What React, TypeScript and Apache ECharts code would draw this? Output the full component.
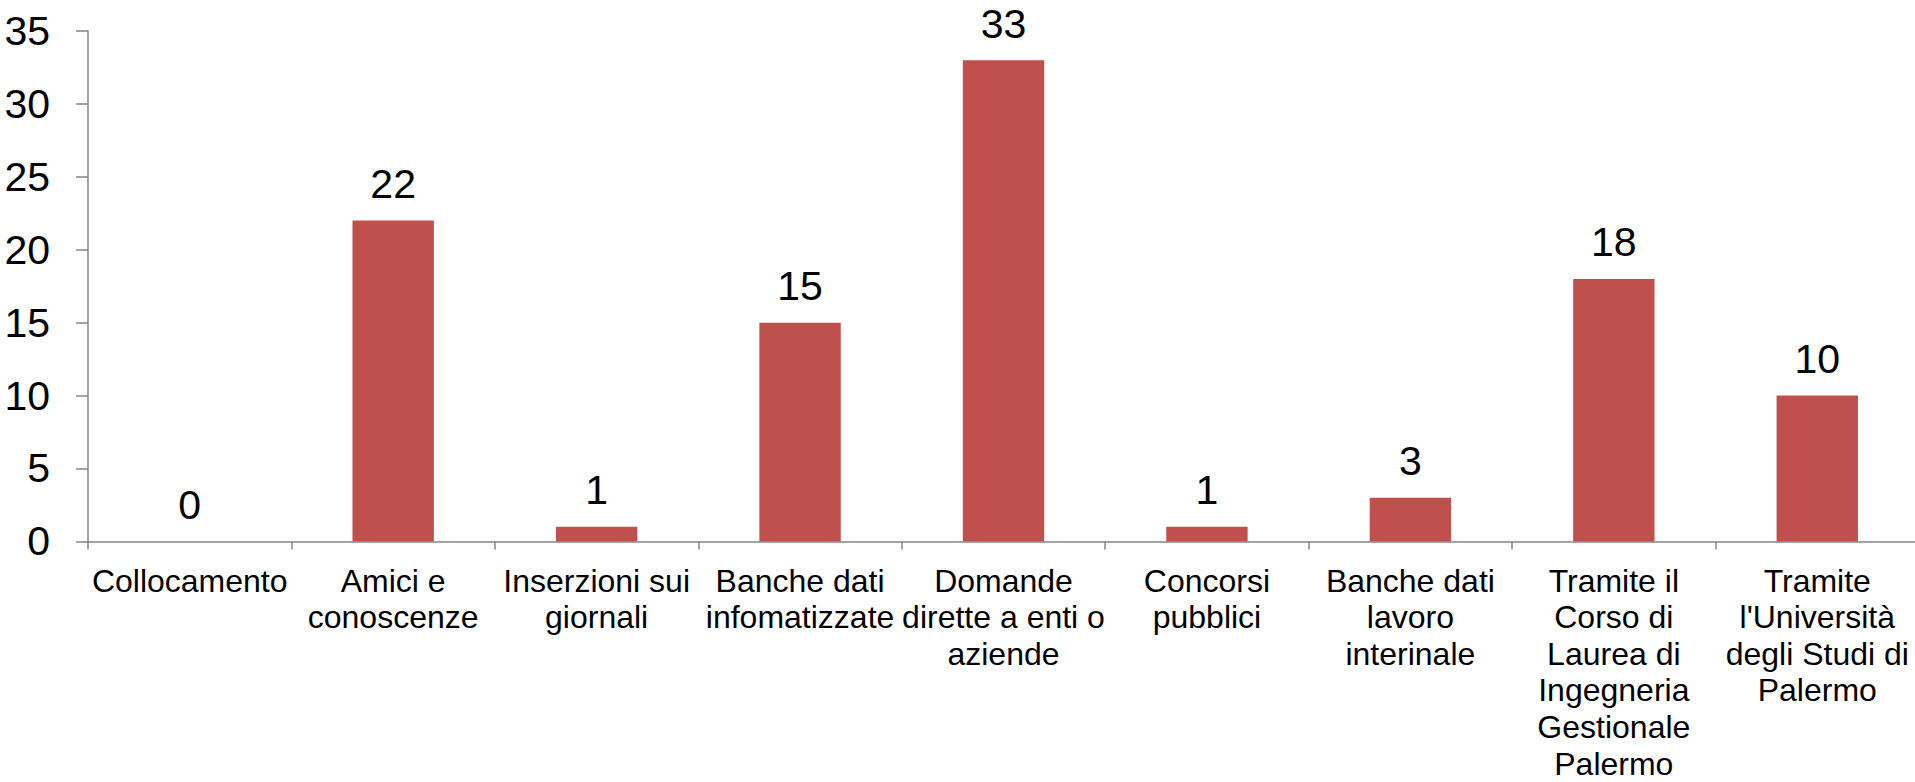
import React, { useEffect, useRef } from "react";
import * as echarts from "echarts";

const categories = [
  "Collocamento",
  "Amici e\nconoscenze",
  "Inserzioni sui\ngiornali",
  "Banche dati\ninfomatizzate",
  "Domande\ndirette a enti o\naziende",
  "Concorsi\npubblici",
  "Banche dati\nlavoro\ninterinale",
  "Tramite il\nCorso di\nLaurea di\nIngegneria\nGestionale\nPalermo",
  "Tramite\nl'Università\ndegli Studi di\nPalermo",
];
const values = [0, 22, 1, 15, 33, 1, 3, 18, 10];
const yMin = 0;
const yMax = 35;
const yStep = 5;

export default function App() {
  const ref = useRef<HTMLDivElement>(null);
  useEffect(() => {
    if (!ref.current) return;
    const chart = echarts.init(ref.current, null, { renderer: "svg" });
    const font = "'Liberation Sans', Arial, sans-serif";
    chart.setOption({
      animation: false,
      backgroundColor: "#ffffff",
      grid: { left: 88, right: 0, top: 31, bottom: 237, containLabel: false },
      xAxis: {
        type: "category",
        data: categories,
        axisLine: { show: true, lineStyle: { color: "#868686", width: 1.5 } },
        axisTick: { show: true, length: 8, lineStyle: { color: "#868686", width: 1.5 } },
        axisLabel: {
          interval: 0,
          color: "#000000",
          fontFamily: font,
          fontSize: 32,
          lineHeight: 36.6,
          margin: 21,
        },
      },
      yAxis: {
        type: "value",
        min: yMin,
        max: yMax,
        interval: yStep,
        splitLine: { show: false },
        axisLine: { show: true, lineStyle: { color: "#868686", width: 1.5 } },
        axisTick: { show: true, length: 12, lineStyle: { color: "#868686", width: 1.5 } },
        axisLabel: {
          color: "#000000",
          fontFamily: font,
          fontSize: 41,
          margin: 38,
        },
      },
      series: [
        {
          type: "bar",
          data: values,
          barWidth: "40%",
          itemStyle: { color: "#C0504D" },
          label: {
            show: true,
            position: "top",
            distance: 16,
            color: "#000000",
            fontFamily: font,
            fontSize: 41,
          },
        },
      ],
    });
    return () => chart.dispose();
  }, []);
  return (
    <div
      style={{
        position: "absolute",
        left: 0,
        top: 0,
        width: 1915,
        height: 782,
        overflow: "hidden",
      }}
    >
      <div ref={ref} style={{ width: 1919, height: 782 }} />
    </div>
  );
}
